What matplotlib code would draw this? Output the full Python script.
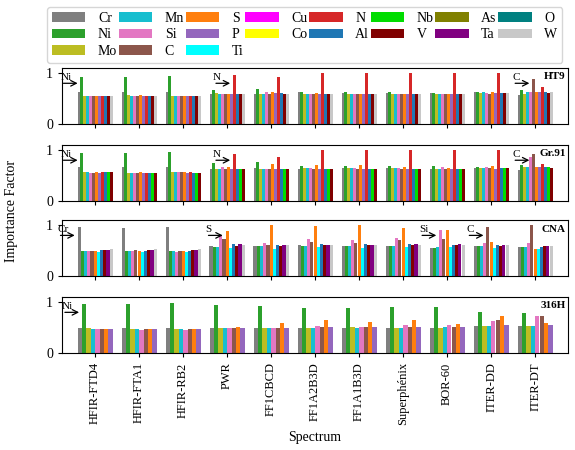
import matplotlib
matplotlib.use("Agg")
import matplotlib.pyplot as plt
from matplotlib.patches import Patch
import numpy as np

plt.rcParams['font.family'] = ['Liberation Serif', 'DejaVu Serif']

spectra = ["HFIR-FTD4", "HFIR-FTA1", "HFIR-RB2", "PWR", "FF1CBCD", "FF1A2B3D",
           "FF1A1B3D", "Superphénix", "BOR-60", "ITER-DD", "ITER-DT"]

legend_elements = ["Cr", "Ni", "Mo", "Mn", "Si", "C", "S", "P", "Ti", "Cu", "Co",
                   "N", "Al", "Nb", "V", "As", "Ta", "O", "W"]
element_colors = {"Cr": "#7f7f7f", "Ni": "#2ca02c", "Mo": "#bcbd22", "Mn": "#17becf",
                  "Si": "#e377c2", "C": "#8c564b", "S": "#ff7f0e", "P": "#9467bd",
                  "Ti": "#00ffff", "Cu": "#ff00ff", "Co": "#ffff00", "N": "#d62728",
                  "Al": "#1f77b4", "Nb": "#00dd00", "V": "#800000", "As": "#808000",
                  "Ta": "#800080", "O": "#008080", "W": "#c8c8c8"}

# ---- HT9 ----
ht9_elements = ["Cr", "Ni", "Mo", "Mn", "Si", "C", "S", "P", "N", "Al", "V", "W"]
ht9_values = [
    [0.63, 0.93, 0.56, 0.56, 0.56, 0.56, 0.56, 0.56, 0.56, 0.56, 0.56, 0.56],
    [0.63, 0.93, 0.57, 0.56, 0.56, 0.56, 0.58, 0.56, 0.56, 0.56, 0.56, 0.56],
    [0.63, 0.95, 0.56, 0.56, 0.56, 0.56, 0.56, 0.56, 0.56, 0.56, 0.56, 0.56],
    [0.60, 0.67, 0.61, 0.60, 0.60, 0.60, 0.60, 0.60, 0.97, 0.60, 0.60, 0.60],
    [0.60, 0.68, 0.60, 0.60, 0.62, 0.60, 0.63, 0.61, 0.92, 0.61, 0.60, 0.60],
    [0.62, 0.62, 0.60, 0.60, 0.60, 0.60, 0.61, 0.60, 1.00, 0.60, 0.60, 0.60],
    [0.61, 0.62, 0.60, 0.60, 0.60, 0.60, 0.60, 0.60, 1.00, 0.60, 0.60, 0.60],
    [0.61, 0.62, 0.60, 0.60, 0.60, 0.60, 0.60, 0.60, 1.00, 0.59, 0.59, 0.59],
    [0.61, 0.61, 0.60, 0.60, 0.60, 0.60, 0.60, 0.60, 1.00, 0.60, 0.60, 0.60],
    [0.62, 0.62, 0.61, 0.62, 0.61, 0.60, 0.62, 0.61, 1.00, 0.61, 0.61, 0.61],
    [0.58, 0.66, 0.60, 0.62, 0.62, 0.88, 0.62, 0.62, 0.73, 0.62, 0.61, 0.62],
]
# ---- Gr.91 ----
gr91_elements = ["Cr", "Ni", "Mo", "Mn", "Si", "C", "S", "P", "N", "Al", "Nb", "V"]
gr91_values = [
    [0.67, 0.94, 0.57, 0.57, 0.56, 0.56, 0.57, 0.56, 0.57, 0.57, 0.57, 0.57],
    [0.66, 0.94, 0.56, 0.56, 0.56, 0.56, 0.57, 0.56, 0.56, 0.56, 0.56, 0.56],
    [0.66, 0.97, 0.57, 0.57, 0.57, 0.57, 0.57, 0.56, 0.57, 0.56, 0.56, 0.56],
    [0.63, 0.75, 0.63, 0.63, 0.66, 0.63, 0.66, 0.63, 0.93, 0.63, 0.63, 0.63],
    [0.64, 0.77, 0.63, 0.63, 0.63, 0.63, 0.72, 0.63, 0.87, 0.63, 0.63, 0.63],
    [0.63, 0.68, 0.64, 0.64, 0.64, 0.63, 0.70, 0.63, 1.00, 0.63, 0.63, 0.63],
    [0.64, 0.68, 0.64, 0.64, 0.65, 0.63, 0.70, 0.63, 1.00, 0.63, 0.63, 0.63],
    [0.64, 0.68, 0.64, 0.64, 0.65, 0.63, 0.67, 0.63, 1.00, 0.63, 0.63, 0.63],
    [0.63, 0.69, 0.63, 0.63, 0.67, 0.63, 0.65, 0.63, 1.00, 0.63, 0.63, 0.63],
    [0.65, 0.66, 0.64, 0.64, 0.66, 0.64, 0.68, 0.63, 1.00, 0.64, 0.64, 0.64],
    [0.60, 0.71, 0.67, 0.66, 0.86, 0.92, 0.66, 0.67, 0.72, 0.67, 0.67, 0.65],
]
# ---- CNA ----
cna_elements = ["Cr", "Ni", "Mn", "Si", "C", "S", "Ti", "Al", "V", "Ta", "W"]
cna_values = [
    [0.96, 0.50, 0.50, 0.50, 0.50, 0.50, 0.47, 0.51, 0.52, 0.52, 0.53],
    [0.94, 0.50, 0.50, 0.50, 0.51, 0.50, 0.47, 0.50, 0.51, 0.52, 0.54],
    [0.96, 0.50, 0.50, 0.48, 0.49, 0.49, 0.47, 0.50, 0.51, 0.52, 0.54],
    [0.60, 0.57, 0.58, 0.80, 0.72, 0.88, 0.56, 0.63, 0.59, 0.63, 0.62],
    [0.60, 0.60, 0.59, 0.65, 0.62, 1.00, 0.54, 0.61, 0.60, 0.61, 0.61],
    [0.62, 0.60, 0.60, 0.72, 0.68, 0.99, 0.57, 0.63, 0.61, 0.62, 0.61],
    [0.60, 0.60, 0.60, 0.71, 0.65, 1.00, 0.56, 0.63, 0.62, 0.62, 0.61],
    [0.60, 0.60, 0.60, 0.75, 0.71, 0.95, 0.57, 0.63, 0.62, 0.63, 0.61],
    [0.56, 0.56, 0.58, 0.90, 0.72, 0.90, 0.58, 0.62, 0.62, 0.63, 0.62],
    [0.60, 0.60, 0.60, 0.65, 0.96, 0.67, 0.56, 0.61, 0.60, 0.61, 0.61],
    [0.58, 0.58, 0.58, 0.65, 1.00, 0.53, 0.53, 0.57, 0.59, 0.60, 0.59],
]
# ---- 316H ----
h316_elements = ["Cr", "Ni", "Mo", "Mn", "Si", "C", "S", "P"]
h316_values = [
    [0.50, 0.97, 0.49, 0.48, 0.47, 0.48, 0.48, 0.48],
    [0.50, 0.97, 0.48, 0.48, 0.46, 0.48, 0.48, 0.48],
    [0.50, 0.98, 0.48, 0.48, 0.46, 0.47, 0.47, 0.47],
    [0.50, 0.95, 0.50, 0.50, 0.50, 0.50, 0.52, 0.50],
    [0.50, 0.93, 0.50, 0.50, 0.50, 0.50, 0.60, 0.50],
    [0.50, 0.89, 0.50, 0.50, 0.53, 0.51, 0.66, 0.52],
    [0.50, 0.88, 0.51, 0.50, 0.52, 0.51, 0.62, 0.52],
    [0.50, 0.90, 0.50, 0.50, 0.55, 0.52, 0.66, 0.52],
    [0.50, 0.90, 0.50, 0.52, 0.56, 0.52, 0.58, 0.52],
    [0.53, 0.80, 0.53, 0.53, 0.63, 0.66, 0.72, 0.56],
    [0.53, 0.78, 0.53, 0.53, 0.72, 0.72, 0.60, 0.56],
]

materials = [("HT9", ht9_elements, ht9_values, [(0, "Ni"), (3, "N"), (10, "C")]),
             ("Gr.91", gr91_elements, gr91_values, [(0, "Ni"), (3, "N"), (10, "C")]),
             ("CNA", cna_elements, cna_values, [(0, "Cr"), (3, "S"), (8, "Si"), (9, "C")]),
             ("316H", h316_elements, h316_values, [(0, "Ni")])]

fig = plt.figure(figsize=(5.75, 4.5), dpi=100)
tops = [0.849, 0.678, 0.511, 0.340]
height = 0.125
left, width = 0.108, 0.880
group_w = 0.8
x = np.arange(len(spectra))
axes = []
for (name, elems, vals, notes), top in zip(materials, tops):
    ax = fig.add_axes([left, top - height, width, height])
    axes.append(ax)
    vals = np.array(vals)
    n = len(elems)
    bw = group_w / n
    for j, el in enumerate(elems):
        ax.bar(x - group_w / 2 + bw * (j + 0.5), vals[:, j], width=bw,
               color=element_colors[el])
    for si, el in notes:
        j = elems.index(el)
        bx = si - group_w / 2 + bw * j
        ax.annotate("", xy=(bx, 0.8), xytext=(bx - 0.45, 0.8),
                    arrowprops=dict(arrowstyle="->", lw=0.9, color="black"))
        ax.text(bx - 0.45, 0.83, el, fontsize=8, ha="left", va="bottom")
    ax.text(0.995, 0.92, name, transform=ax.transAxes, ha="right", va="top",
            fontsize=8, fontweight="bold")
    ax.set_xlim(-0.75, len(spectra) - 0.25)
    ax.set_ylim(0, 1.1)
    ax.set_yticks([0, 1])
    ax.set_yticklabels(["0", "1"], fontsize=10)
    ax.set_xticks(x)
    ax.set_xticklabels([])
    ax.tick_params(axis="both", length=3)

axes[-1].set_xticklabels(spectra, rotation=90, fontsize=9)
axes[-1].set_xlabel("Spectrum", fontsize=10)
fig.text(0.02, 0.53, "Importance Factor", rotation=90, va="center", ha="center", fontsize=10)

handles = [Patch(facecolor=element_colors[e], label=e) for e in legend_elements]
fig.legend(handles=handles, loc="upper left", bbox_to_anchor=(0.07, 1.0), ncol=8,
           fontsize=10, frameon=True, handlelength=2.4, columnspacing=1.1,
           handletextpad=0.9, borderpad=0.35, labelspacing=0.25,
           mode="expand", bbox_transform=fig.transFigure)
fig.legends[0].set_bbox_to_anchor((0.07, 0.86, 0.92, 0.14), transform=fig.transFigure)

fig.savefig("out.png", dpi=100)
